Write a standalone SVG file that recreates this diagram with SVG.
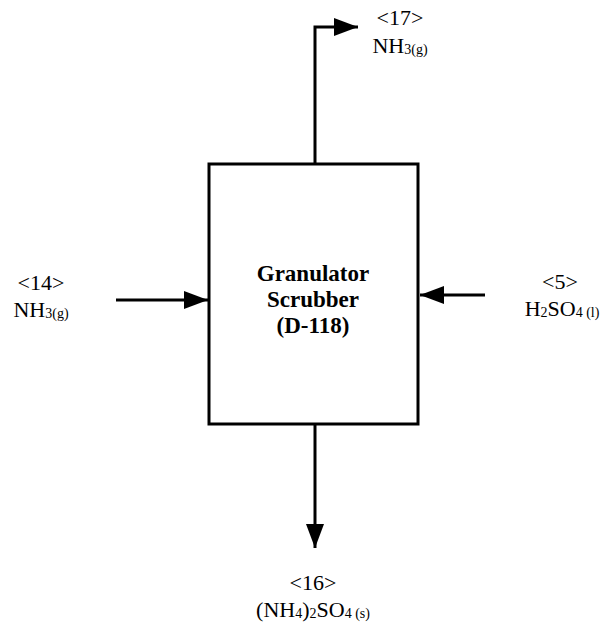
<svg xmlns="http://www.w3.org/2000/svg" width="605" height="624" viewBox="0 0 605 624">
<style>
.lbl{font-family:"Liberation Serif","Times New Roman",serif;font-size:22px;fill:#000;text-anchor:middle}
.sub{font-size:14px}
.title{font-family:"Liberation Serif","Times New Roman",serif;font-size:23px;font-weight:bold;fill:#000;text-anchor:middle}
.ln{stroke:#000;stroke-width:3;fill:none}
</style>
<defs>
<marker id="ah" markerWidth="8" markerHeight="6" refX="8" refY="3" orient="auto" markerUnits="strokeWidth">
<path d="M0,0 L8,3 L0,6 Z" fill="#000"/>
</marker>
</defs>
<rect width="605" height="624" fill="#fff"/>
<g id="connectors">
<path class="ln" d="M315,164 V27 H358" marker-end="url(#ah)"/>
<path class="ln" d="M116,300 H208" marker-end="url(#ah)"/>
<path class="ln" d="M485,295 H420" marker-end="url(#ah)"/>
<path class="ln" d="M315,424 V548" marker-end="url(#ah)"/>
</g>
<g id="scrubber">
<rect x="209" y="164" width="209" height="260" fill="#fff" stroke="#000" stroke-width="3"/>
<text class="title" x="313" y="281">Granulator</text>
<text class="title" x="313" y="307">Scrubber</text>
<text class="title" x="313" y="333">(D-118)</text>
</g>
<g id="s17">
<text class="lbl" x="400" y="25">&lt;17&gt;</text>
<text class="lbl" x="400" y="53">NH<tspan class="sub" dy="1">3(g)</tspan></text>
</g>
<g id="s14">
<text class="lbl" x="41" y="290">&lt;14&gt;</text>
<text class="lbl" x="41" y="317">NH<tspan class="sub" dy="1">3(g)</tspan></text>
</g>
<g id="s5">
<text class="lbl" x="560" y="289">&lt;5&gt;</text>
<text class="lbl" x="562" y="316">H<tspan class="sub" dy="1">2</tspan><tspan dy="-1">SO</tspan><tspan class="sub" dy="1">4 (l)</tspan></text>
</g>
<g id="s16">
<text class="lbl" x="313" y="590">&lt;16&gt;</text>
<text class="lbl" x="313" y="617">(NH<tspan class="sub" dy="1">4</tspan><tspan dy="-1">)</tspan><tspan class="sub" dy="1">2</tspan><tspan dy="-1">SO</tspan><tspan class="sub" dy="1">4 (s)</tspan></text>
</g>
</svg>
